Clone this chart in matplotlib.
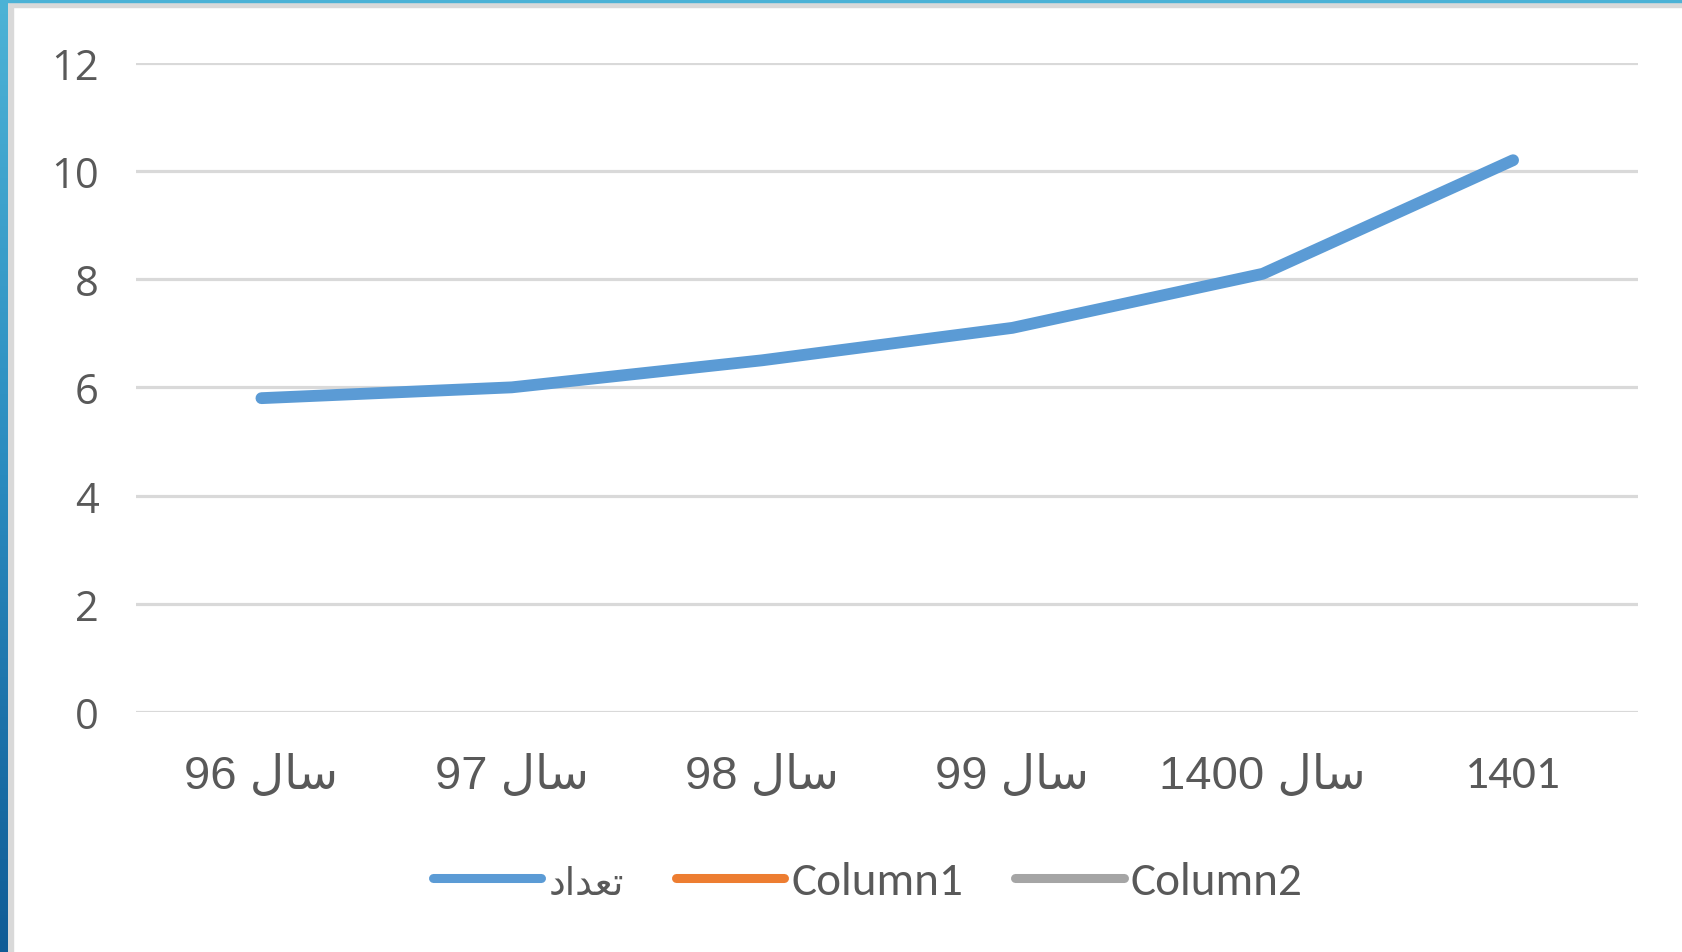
import numpy as np
import matplotlib.pyplot as plt
from matplotlib.patches import Rectangle
from matplotlib.colors import LinearSegmentedColormap

# data
years = ["سال 96", "سال 97", "سال 98", "سال 99", "سال 1400", "1401"]
counts = [5.8, 6.0, 6.5, 7.1, 8.1, 10.2]
column1 = []
column2 = []
series_names = ["تعداد", "Column1", "Column2"]
yticks = [0, 2, 4, 6, 8, 10, 12]

# matplotlib has no Arabic shaping, so pick presentation forms by hand
FORMS = {  # isolated, final, initial, medial
    "س": ("\uFEB1", "\uFEB2", "\uFEB3", "\uFEB4"),
    "ا": ("\uFE8D", "\uFE8E", None, None),
    "ل": ("\uFEDD", "\uFEDE", "\uFEDF", "\uFEE0"),
    "ت": ("\uFE95", "\uFE96", "\uFE97", "\uFE98"),
    "ع": ("\uFEC9", "\uFECA", "\uFECB", "\uFECC"),
    "د": ("\uFEA9", "\uFEAA", None, None),
}


def shape_word(word):
    out = []
    for i, ch in enumerate(word):
        f = FORMS.get(ch)
        if f is None:
            out.append(ch)
            continue
        prev = word[i - 1] if i > 0 else None
        nxt = word[i + 1] if i + 1 < len(word) else None
        jp = prev in FORMS and FORMS[prev][2] is not None
        jn = nxt in FORMS and f[2] is not None
        if jp and jn:
            out.append(f[3])
        elif jp:
            out.append(f[1])
        elif jn:
            out.append(f[2])
        else:
            out.append(f[0])
    return "".join(reversed(out))


def rtl_label(text):
    # "سال 96" reads as "96 سال" on screen
    parts = text.split(" ")
    if len(parts) == 1:
        return shape_word(text) if text[0] in FORMS else text
    word, num = parts
    return num + " " + shape_word(word)


text_color = "#595959"

fig = plt.figure(figsize=(16.82, 9.53), dpi=100)
fig.patch.set_facecolor("white")

# decorative frame: blue strips with a thin gray inner edge
W, H = 1682, 953
fig.add_artist(Rectangle((0, 0), 13 / W, 1, transform=fig.transFigure,
                         color="#d9d9d9", zorder=0))
fig.add_artist(Rectangle((0, 1 - 8 / H), 1, 8 / H, transform=fig.transFigure,
                         color="#d9d9d9", zorder=0))
grad = fig.add_axes([0, 0, 8 / W, 1])
g = np.linspace(0, 1, 256).reshape(-1, 1)
cm = LinearSegmentedColormap.from_list("frame", ["#4db3d6", "#2a8bbf", "#105c96"])
grad.imshow(g, aspect="auto", cmap=cm, extent=[0, 1, 0, 1], origin="upper")
grad.axis("off")
fig.add_artist(Rectangle((0, 1 - 3 / H), 1, 3 / H, transform=fig.transFigure,
                         color="#4cb2d6", zorder=3))

ax = fig.add_axes([0.081, 0.252, 0.893, 0.681])
x = np.arange(len(years))
ax.plot(x, counts, color="#5b9bd5", lw=8.5, solid_capstyle="round",
        solid_joinstyle="round", zorder=3)
ax.plot(column1, column1, color="#ed7d31")
ax.plot(column2, column2, color="#a5a5a5")

ax.set_xlim(-0.5, len(years) - 0.5)
ax.set_ylim(0, 12)
ax.set_yticks(yticks)
ax.grid(axis="y", color="#d9d9d9", lw=2.3)
ax.set_axisbelow(True)
for s in ax.spines.values():
    s.set_visible(False)
ax.tick_params(length=0)
ax.set_yticklabels([str(v) for v in yticks], fontsize=30, color=text_color,
                   family="Open Sans")
ax.tick_params(axis="y", pad=27)
ax.set_xticks(x)
ax.set_xticklabels([rtl_label(t) for t in years], fontsize=34, color=text_color)
for lab, raw in zip(ax.get_xticklabels(), years):
    if " " in raw:
        lab.set_family(["Liberation Sans", "DejaVu Sans"])
    else:
        lab.set_family("Carlito")
ax.tick_params(axis="x", pad=30)

# legend handles drawn thinner than the data line, like the original
handles = [plt.Line2D([], [], color=c, lw=6.5, solid_capstyle="round")
           for c in ["#5b9bd5", "#ed7d31", "#a5a5a5"]]
labels = [shape_word(series_names[0]), series_names[1], series_names[2]]
leg = ax.legend(handles, labels, loc="center", bbox_to_anchor=(0.487, -0.262),
                ncol=3, frameon=False, handlelength=2.3, handletextpad=0.15,
                columnspacing=1.1, prop={"family": "Carlito", "size": 34})
for t in leg.get_texts():
    t.set_color(text_color)
leg.get_texts()[0].set_family("DejaVu Sans")
leg.get_texts()[0].set_fontsize(27)

plt.savefig("out.png", dpi=100)
plt.close()
